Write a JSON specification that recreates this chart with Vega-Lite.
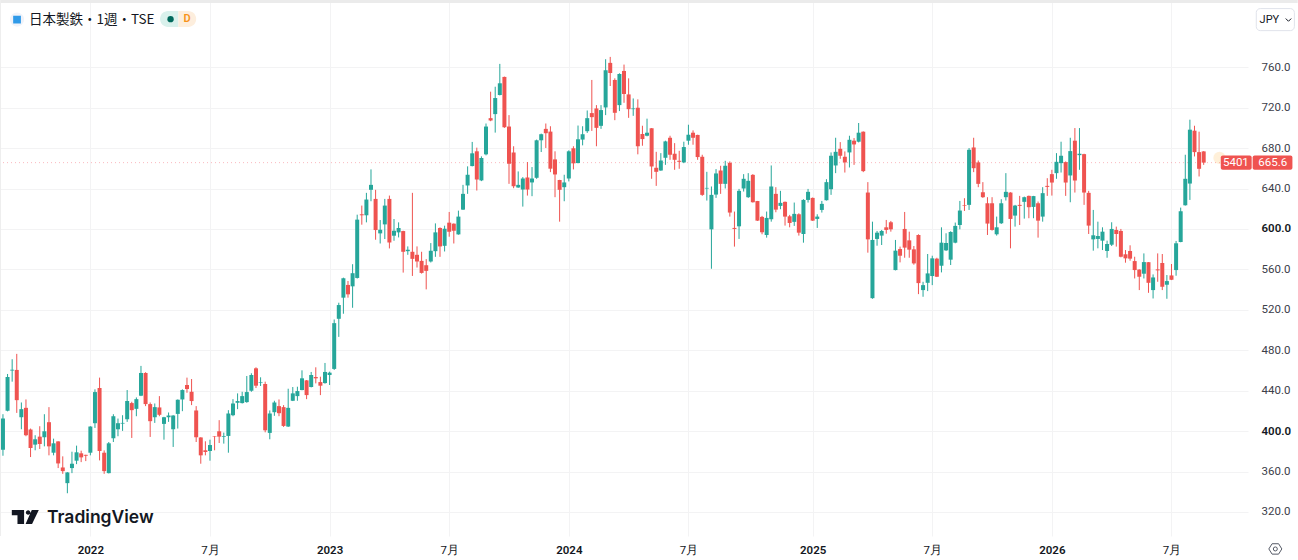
{
"$schema":"https://vega.github.io/schema/vega-lite/v6.json",
"width":1248,"height":536,
"autosize":"none",
"padding":{"left":0,"top":0,"right":50,"bottom":24},
"background":"#ffffff",
"config":{"view":{"stroke":null}},
"title":{"text":"日本製鉄・1週・TSE","anchor":"start","frame":"group","dx":29,"dy":31,"font":"Noto Sans CJK JP","fontSize":13.5,"fontWeight":"normal","color":"#131722"},
"datasets":{"candles":[
{"d":"2021-08-23","o":381.6,"h":416.7,"l":375.6,"c":412.4},
{"d":"2021-08-30","o":420.0,"h":456.5,"l":419.5,"c":453.5},
{"d":"2021-09-06","o":459.9,"h":471.1,"l":448.9,"c":460.7},
{"d":"2021-09-13","o":460.5,"h":476.4,"l":418.0,"c":430.6},
{"d":"2021-09-20","o":413.7,"h":428.3,"l":401.8,"c":421.7},
{"d":"2021-09-27","o":423.0,"h":431.3,"l":394.9,"c":395.9},
{"d":"2021-10-04","o":401.5,"h":402.5,"l":374.3,"c":383.3},
{"d":"2021-10-11","o":386.6,"h":395.9,"l":381.0,"c":391.9},
{"d":"2021-10-18","o":394.5,"h":404.8,"l":382.3,"c":387.2},
{"d":"2021-10-25","o":393.9,"h":416.7,"l":384.9,"c":399.8},
{"d":"2021-11-01","o":408.8,"h":423.7,"l":376.0,"c":384.9},
{"d":"2021-11-08","o":378.6,"h":392.5,"l":376.0,"c":387.9},
{"d":"2021-11-15","o":389.8,"h":389.9,"l":363.4,"c":368.0},
{"d":"2021-11-22","o":364.0,"h":375.0,"l":357.7,"c":360.4},
{"d":"2021-11-29","o":348.5,"h":359.4,"l":338.5,"c":359.1},
{"d":"2021-12-06","o":363.4,"h":379.6,"l":358.4,"c":367.7},
{"d":"2021-12-13","o":370.7,"h":385.6,"l":367.3,"c":379.0},
{"d":"2021-12-20","o":378.0,"h":380.6,"l":369.3,"c":374.0},
{"d":"2021-12-27","o":376.5,"h":376.6,"l":370.3,"c":375.6},
{"d":"2022-01-03","o":378.6,"h":404.8,"l":376.0,"c":404.5},
{"d":"2022-01-10","o":407.8,"h":441.3,"l":403.1,"c":438.6},
{"d":"2022-01-17","o":442.6,"h":452.9,"l":371.0,"c":380.3},
{"d":"2022-01-24","o":378.6,"h":380.9,"l":357.7,"c":360.4},
{"d":"2022-01-31","o":358.4,"h":389.2,"l":358.1,"c":387.9},
{"d":"2022-02-07","o":392.9,"h":416.7,"l":389.2,"c":414.7},
{"d":"2022-02-14","o":401.8,"h":412.4,"l":394.9,"c":407.8},
{"d":"2022-02-21","o":407.4,"h":415.7,"l":400.2,"c":408.1},
{"d":"2022-02-28","o":411.8,"h":440.6,"l":409.1,"c":429.7},
{"d":"2022-03-07","o":427.7,"h":429.0,"l":393.2,"c":420.7},
{"d":"2022-03-14","o":422.0,"h":433.3,"l":414.7,"c":431.6},
{"d":"2022-03-21","o":435.0,"h":464.5,"l":434.6,"c":457.5},
{"d":"2022-03-28","o":457.5,"h":458.2,"l":424.7,"c":426.7},
{"d":"2022-04-04","o":426.7,"h":428.3,"l":394.2,"c":409.8},
{"d":"2022-04-11","o":413.7,"h":427.3,"l":408.1,"c":423.7},
{"d":"2022-04-18","o":423.4,"h":434.6,"l":414.7,"c":416.1},
{"d":"2022-04-25","o":407.1,"h":414.1,"l":391.5,"c":413.7},
{"d":"2022-05-02","o":413.7,"h":418.4,"l":409.1,"c":415.4},
{"d":"2022-05-09","o":401.8,"h":415.7,"l":384.3,"c":415.4},
{"d":"2022-05-16","o":417.0,"h":431.3,"l":402.5,"c":431.0},
{"d":"2022-05-23","o":431.3,"h":441.3,"l":419.7,"c":440.6},
{"d":"2022-05-30","o":445.6,"h":452.9,"l":437.9,"c":441.6},
{"d":"2022-06-06","o":438.9,"h":451.5,"l":425.7,"c":429.7},
{"d":"2022-06-13","o":420.4,"h":424.7,"l":389.2,"c":393.9},
{"d":"2022-06-20","o":393.7,"h":393.9,"l":367.7,"c":376.0},
{"d":"2022-06-27","o":381.0,"h":389.9,"l":376.0,"c":379.3},
{"d":"2022-07-04","o":380.3,"h":391.5,"l":370.7,"c":386.2},
{"d":"2022-07-11","o":394.7,"h":394.9,"l":381.0,"c":394.2},
{"d":"2022-07-18","o":399.8,"h":410.8,"l":388.2,"c":394.5},
{"d":"2022-07-25","o":394.2,"h":398.5,"l":387.6,"c":394.9},
{"d":"2022-08-01","o":395.2,"h":420.7,"l":378.6,"c":417.4},
{"d":"2022-08-08","o":415.7,"h":431.6,"l":414.7,"c":427.3},
{"d":"2022-08-15","o":428.0,"h":437.3,"l":421.7,"c":429.7},
{"d":"2022-08-22","o":427.7,"h":438.9,"l":427.3,"c":434.6},
{"d":"2022-08-29","o":428.7,"h":454.5,"l":428.0,"c":438.6},
{"d":"2022-09-05","o":439.9,"h":457.2,"l":438.9,"c":455.5},
{"d":"2022-09-12","o":462.1,"h":463.1,"l":442.6,"c":444.9},
{"d":"2022-09-19","o":447.9,"h":453.2,"l":444.6,"c":448.5},
{"d":"2022-09-26","o":446.6,"h":448.9,"l":398.8,"c":400.8},
{"d":"2022-10-03","o":398.2,"h":420.4,"l":391.9,"c":417.4},
{"d":"2022-10-10","o":418.7,"h":430.0,"l":415.1,"c":428.3},
{"d":"2022-10-17","o":424.7,"h":431.3,"l":414.7,"c":417.7},
{"d":"2022-10-24","o":423.7,"h":425.7,"l":404.1,"c":405.1},
{"d":"2022-10-31","o":404.5,"h":441.9,"l":404.1,"c":423.0},
{"d":"2022-11-07","o":430.0,"h":443.6,"l":429.7,"c":437.3},
{"d":"2022-11-14","o":434.6,"h":443.9,"l":430.0,"c":439.6},
{"d":"2022-11-21","o":440.6,"h":460.1,"l":440.4,"c":452.2},
{"d":"2022-11-28","o":450.2,"h":450.5,"l":431.6,"c":435.6},
{"d":"2022-12-05","o":443.6,"h":458.5,"l":443.2,"c":455.5},
{"d":"2022-12-12","o":453.5,"h":463.1,"l":447.2,"c":452.2},
{"d":"2022-12-19","o":448.5,"h":453.8,"l":435.6,"c":444.9},
{"d":"2022-12-26","o":447.5,"h":467.4,"l":446.9,"c":458.5},
{"d":"2023-01-02","o":455.5,"h":458.8,"l":445.6,"c":457.8},
{"d":"2023-01-09","o":461.5,"h":510.4,"l":460.5,"c":506.8},
{"d":"2023-01-16","o":511.1,"h":527.0,"l":493.2,"c":524.7},
{"d":"2023-01-23","o":532.0,"h":551.8,"l":516.1,"c":551.2},
{"d":"2023-01-30","o":544.6,"h":548.5,"l":532.0,"c":535.3},
{"d":"2023-02-06","o":543.2,"h":565.1,"l":522.0,"c":556.2},
{"d":"2023-02-13","o":551.5,"h":614.1,"l":550.9,"c":609.2},
{"d":"2023-02-20","o":614.5,"h":623.1,"l":604.2,"c":613.5},
{"d":"2023-02-27","o":613.5,"h":635.7,"l":606.5,"c":629.1},
{"d":"2023-03-06","o":638.7,"h":658.9,"l":627.4,"c":643.6},
{"d":"2023-03-13","o":629.7,"h":638.7,"l":589.3,"c":598.9},
{"d":"2023-03-20","o":595.6,"h":608.8,"l":585.6,"c":599.2},
{"d":"2023-03-27","o":604.5,"h":629.7,"l":590.0,"c":623.1},
{"d":"2023-04-03","o":629.7,"h":633.0,"l":580.7,"c":586.6},
{"d":"2023-04-10","o":593.3,"h":609.8,"l":588.3,"c":598.2},
{"d":"2023-04-17","o":596.6,"h":606.5,"l":591.6,"c":600.9},
{"d":"2023-04-24","o":597.9,"h":598.2,"l":556.8,"c":577.4},
{"d":"2023-05-01","o":578.0,"h":582.7,"l":574.4,"c":579.4},
{"d":"2023-05-08","o":577.4,"h":635.7,"l":553.5,"c":570.4},
{"d":"2023-05-15","o":574.4,"h":582.7,"l":561.8,"c":567.8},
{"d":"2023-05-22","o":568.4,"h":577.4,"l":555.8,"c":556.5},
{"d":"2023-05-29","o":564.1,"h":570.1,"l":540.2,"c":558.5},
{"d":"2023-06-05","o":567.8,"h":586.0,"l":566.8,"c":578.4},
{"d":"2023-06-12","o":578.0,"h":605.5,"l":572.4,"c":596.6},
{"d":"2023-06-19","o":600.9,"h":601.6,"l":572.4,"c":582.7},
{"d":"2023-06-26","o":583.3,"h":603.2,"l":577.7,"c":600.2},
{"d":"2023-07-03","o":606.2,"h":616.8,"l":592.3,"c":597.2},
{"d":"2023-07-10","o":605.2,"h":605.5,"l":585.6,"c":598.2},
{"d":"2023-07-17","o":594.6,"h":618.1,"l":594.3,"c":612.2},
{"d":"2023-07-24","o":619.1,"h":643.6,"l":618.8,"c":634.7},
{"d":"2023-07-31","o":643.0,"h":661.9,"l":634.7,"c":653.6},
{"d":"2023-08-07","o":662.2,"h":686.1,"l":661.9,"c":674.8},
{"d":"2023-08-14","o":676.8,"h":680.4,"l":638.0,"c":648.9},
{"d":"2023-08-21","o":648.0,"h":671.8,"l":647.3,"c":670.2},
{"d":"2023-08-28","o":673.8,"h":704.3,"l":672.8,"c":701.3},
{"d":"2023-09-04","o":709.6,"h":735.8,"l":706.6,"c":707.3},
{"d":"2023-09-11","o":713.6,"h":740.7,"l":695.3,"c":729.5},
{"d":"2023-09-18","o":732.5,"h":763.3,"l":732.1,"c":744.1},
{"d":"2023-09-25","o":750.4,"h":750.7,"l":700.0,"c":700.6},
{"d":"2023-10-02","o":701.3,"h":712.6,"l":644.6,"c":664.5},
{"d":"2023-10-09","o":675.5,"h":681.8,"l":640.3,"c":642.3},
{"d":"2023-10-16","o":641.0,"h":656.9,"l":640.7,"c":643.6},
{"d":"2023-10-23","o":639.0,"h":651.3,"l":622.1,"c":649.9},
{"d":"2023-10-30","o":650.9,"h":666.2,"l":633.0,"c":639.0},
{"d":"2023-11-06","o":646.0,"h":661.2,"l":632.4,"c":649.9},
{"d":"2023-11-13","o":650.6,"h":688.4,"l":649.6,"c":687.7},
{"d":"2023-11-20","o":687.7,"h":694.3,"l":676.1,"c":693.7},
{"d":"2023-11-27","o":699.0,"h":704.3,"l":680.1,"c":694.7},
{"d":"2023-12-04","o":696.3,"h":701.6,"l":656.2,"c":659.6},
{"d":"2023-12-11","o":668.8,"h":676.8,"l":631.4,"c":653.9},
{"d":"2023-12-18","o":648.4,"h":648.6,"l":607.2,"c":638.7},
{"d":"2023-12-25","o":641.3,"h":653.6,"l":627.4,"c":646.0},
{"d":"2024-01-01","o":649.9,"h":677.8,"l":647.0,"c":676.8},
{"d":"2024-01-08","o":679.8,"h":681.8,"l":658.9,"c":664.9},
{"d":"2024-01-15","o":665.2,"h":702.3,"l":664.9,"c":688.7},
{"d":"2024-01-22","o":688.4,"h":701.6,"l":682.7,"c":693.7},
{"d":"2024-01-29","o":696.7,"h":717.2,"l":695.0,"c":709.6},
{"d":"2024-02-05","o":714.6,"h":747.4,"l":697.0,"c":710.6},
{"d":"2024-02-12","o":719.2,"h":722.5,"l":681.8,"c":700.0},
{"d":"2024-02-19","o":702.0,"h":722.5,"l":699.0,"c":717.6},
{"d":"2024-02-26","o":720.2,"h":767.9,"l":712.6,"c":757.0},
{"d":"2024-03-04","o":764.3,"h":770.2,"l":741.4,"c":754.3},
{"d":"2024-03-11","o":747.4,"h":749.0,"l":707.6,"c":714.9},
{"d":"2024-03-18","o":722.5,"h":754.0,"l":716.6,"c":753.3},
{"d":"2024-03-25","o":756.3,"h":762.6,"l":724.8,"c":733.5},
{"d":"2024-04-01","o":733.1,"h":749.0,"l":709.9,"c":718.5},
{"d":"2024-04-08","o":718.5,"h":729.1,"l":711.9,"c":719.2},
{"d":"2024-04-15","o":719.9,"h":728.2,"l":673.8,"c":681.8},
{"d":"2024-04-22","o":693.9,"h":702.1,"l":682.3,"c":688.9},
{"d":"2024-04-29","o":692.2,"h":709.1,"l":691.6,"c":695.2},
{"d":"2024-05-06","o":699.6,"h":699.8,"l":649.6,"c":661.8},
{"d":"2024-05-13","o":660.5,"h":676.3,"l":642.6,"c":656.5},
{"d":"2024-05-20","o":657.8,"h":675.0,"l":657.5,"c":667.7},
{"d":"2024-05-27","o":670.4,"h":687.3,"l":663.4,"c":686.6},
{"d":"2024-06-03","o":690.2,"h":692.2,"l":668.4,"c":673.4},
{"d":"2024-06-10","o":674.4,"h":684.9,"l":658.5,"c":668.4},
{"d":"2024-06-17","o":667.4,"h":677.3,"l":659.5,"c":666.4},
{"d":"2024-06-24","o":665.8,"h":686.3,"l":665.1,"c":681.0},
{"d":"2024-07-01","o":687.3,"h":703.1,"l":683.3,"c":693.2},
{"d":"2024-07-08","o":695.2,"h":697.5,"l":683.3,"c":690.2},
{"d":"2024-07-15","o":693.0,"h":693.2,"l":668.4,"c":671.1},
{"d":"2024-07-22","o":671.4,"h":673.4,"l":632.7,"c":633.7},
{"d":"2024-07-29","o":640.0,"h":656.5,"l":628.1,"c":640.6},
{"d":"2024-08-05","o":599.6,"h":642.0,"l":560.6,"c":633.7},
{"d":"2024-08-12","o":634.0,"h":659.2,"l":630.7,"c":654.9},
{"d":"2024-08-19","o":657.8,"h":662.5,"l":634.7,"c":644.6},
{"d":"2024-08-26","o":644.6,"h":667.4,"l":640.0,"c":662.5},
{"d":"2024-09-02","o":665.4,"h":666.8,"l":612.2,"c":616.2},
{"d":"2024-09-09","o":601.0,"h":617.2,"l":582.5,"c":600.0},
{"d":"2024-09-16","o":602.6,"h":639.6,"l":590.1,"c":637.7},
{"d":"2024-09-23","o":640.0,"h":654.2,"l":637.0,"c":649.6},
{"d":"2024-09-30","o":631.4,"h":655.2,"l":630.7,"c":647.6},
{"d":"2024-10-07","o":653.5,"h":654.2,"l":626.1,"c":626.4},
{"d":"2024-10-14","o":627.6,"h":627.7,"l":607.9,"c":608.2},
{"d":"2024-10-21","o":611.9,"h":612.9,"l":594.7,"c":596.7},
{"d":"2024-10-28","o":594.0,"h":617.2,"l":591.4,"c":610.9},
{"d":"2024-11-04","o":609.6,"h":662.8,"l":607.2,"c":642.0},
{"d":"2024-11-11","o":634.7,"h":641.3,"l":616.5,"c":619.1},
{"d":"2024-11-18","o":622.8,"h":637.7,"l":619.5,"c":625.8},
{"d":"2024-11-25","o":626.8,"h":627.1,"l":603.3,"c":612.2},
{"d":"2024-12-02","o":612.5,"h":613.9,"l":601.6,"c":605.9},
{"d":"2024-12-09","o":607.0,"h":626.1,"l":603.0,"c":614.9},
{"d":"2024-12-16","o":614.5,"h":615.5,"l":593.4,"c":596.3},
{"d":"2024-12-23","o":595.0,"h":629.4,"l":586.4,"c":628.7},
{"d":"2024-12-30","o":628.7,"h":639.6,"l":626.1,"c":636.7},
{"d":"2025-01-06","o":630.7,"h":631.1,"l":607.9,"c":608.2},
{"d":"2025-01-13","o":609.9,"h":614.5,"l":601.0,"c":612.2},
{"d":"2025-01-20","o":618.8,"h":627.7,"l":616.2,"c":624.8},
{"d":"2025-01-27","o":628.4,"h":649.2,"l":628.1,"c":646.3},
{"d":"2025-02-03","o":639.3,"h":675.7,"l":633.7,"c":672.4},
{"d":"2025-02-10","o":662.8,"h":690.2,"l":655.2,"c":676.3},
{"d":"2025-02-17","o":679.3,"h":685.9,"l":669.4,"c":672.4},
{"d":"2025-02-24","o":671.4,"h":676.7,"l":655.8,"c":665.8},
{"d":"2025-03-03","o":675.7,"h":692.2,"l":660.8,"c":688.2},
{"d":"2025-03-10","o":687.3,"h":689.9,"l":663.4,"c":683.6},
{"d":"2025-03-17","o":686.3,"h":704.8,"l":685.6,"c":695.2},
{"d":"2025-03-24","o":696.2,"h":696.5,"l":656.2,"c":657.2},
{"d":"2025-03-31","o":636.0,"h":646.3,"l":576.5,"c":589.7},
{"d":"2025-04-07","o":531.5,"h":607.2,"l":530.9,"c":589.1},
{"d":"2025-04-14","o":590.1,"h":598.0,"l":583.4,"c":596.3},
{"d":"2025-04-21","o":593.4,"h":599.0,"l":584.1,"c":598.0},
{"d":"2025-04-28","o":601.6,"h":608.9,"l":595.3,"c":599.0},
{"d":"2025-05-05","o":606.6,"h":607.9,"l":597.3,"c":599.6},
{"d":"2025-05-12","o":559.3,"h":589.1,"l":559.0,"c":578.5},
{"d":"2025-05-19","o":580.1,"h":582.5,"l":566.9,"c":573.5},
{"d":"2025-05-26","o":600.0,"h":616.8,"l":571.5,"c":581.5},
{"d":"2025-06-02","o":588.7,"h":597.3,"l":571.5,"c":579.5},
{"d":"2025-06-09","o":579.8,"h":583.1,"l":564.6,"c":565.9},
{"d":"2025-06-16","o":594.0,"h":594.7,"l":535.5,"c":546.4},
{"d":"2025-06-23","o":539.5,"h":547.7,"l":532.9,"c":544.4},
{"d":"2025-06-30","o":546.7,"h":575.2,"l":538.5,"c":556.0},
{"d":"2025-07-07","o":553.4,"h":573.5,"l":544.4,"c":570.9},
{"d":"2025-07-14","o":570.6,"h":571.5,"l":552.4,"c":552.7},
{"d":"2025-07-21","o":563.6,"h":601.6,"l":557.0,"c":586.4},
{"d":"2025-07-28","o":578.8,"h":595.7,"l":578.2,"c":586.1},
{"d":"2025-08-04","o":569.6,"h":597.7,"l":564.3,"c":597.0},
{"d":"2025-08-11","o":586.4,"h":606.3,"l":585.8,"c":603.0},
{"d":"2025-08-18","o":603.9,"h":627.7,"l":599.6,"c":618.2},
{"d":"2025-08-25","o":623.4,"h":630.4,"l":617.8,"c":622.8},
{"d":"2025-09-01","o":623.8,"h":680.0,"l":618.8,"c":678.3},
{"d":"2025-09-08","o":680.6,"h":690.2,"l":656.2,"c":660.1},
{"d":"2025-09-15","o":665.8,"h":667.7,"l":641.3,"c":644.6},
{"d":"2025-09-22","o":636.3,"h":646.3,"l":630.7,"c":631.4},
{"d":"2025-09-29","o":625.4,"h":631.4,"l":594.0,"c":605.3},
{"d":"2025-10-06","o":625.4,"h":631.4,"l":598.3,"c":599.0},
{"d":"2025-10-13","o":594.7,"h":612.2,"l":593.4,"c":601.6},
{"d":"2025-10-20","o":605.6,"h":629.4,"l":604.9,"c":625.4},
{"d":"2025-10-27","o":631.4,"h":655.2,"l":628.1,"c":636.7},
{"d":"2025-11-03","o":636.0,"h":636.3,"l":580.8,"c":609.9},
{"d":"2025-11-10","o":613.2,"h":623.8,"l":602.3,"c":623.1},
{"d":"2025-11-17","o":623.8,"h":632.7,"l":603.9,"c":622.8},
{"d":"2025-11-24","o":626.8,"h":632.0,"l":610.2,"c":631.4},
{"d":"2025-12-01","o":632.7,"h":633.0,"l":610.6,"c":621.5},
{"d":"2025-12-08","o":621.8,"h":632.7,"l":610.6,"c":632.5},
{"d":"2025-12-15","o":625.4,"h":627.1,"l":591.4,"c":608.2},
{"d":"2025-12-22","o":612.2,"h":641.3,"l":607.2,"c":635.4},
{"d":"2025-12-29","o":642.6,"h":650.2,"l":632.7,"c":641.6},
{"d":"2026-01-05","o":654.2,"h":658.5,"l":633.0,"c":645.9},
{"d":"2026-01-12","o":655.2,"h":675.0,"l":649.6,"c":666.4},
{"d":"2026-01-19","o":665.1,"h":686.3,"l":655.8,"c":672.4},
{"d":"2026-01-26","o":666.1,"h":666.8,"l":632.7,"c":645.9},
{"d":"2026-02-02","o":652.9,"h":690.2,"l":626.4,"c":677.0},
{"d":"2026-02-09","o":687.3,"h":699.8,"l":636.0,"c":647.9},
{"d":"2026-02-16","o":673.0,"h":699.8,"l":658.5,"c":674.4},
{"d":"2026-02-23","o":674.0,"h":674.4,"l":623.8,"c":636.0},
{"d":"2026-03-02","o":635.7,"h":637.7,"l":595.0,"c":603.3},
{"d":"2026-03-09","o":589.7,"h":618.8,"l":578.5,"c":593.7},
{"d":"2026-03-16","o":590.1,"h":607.2,"l":580.8,"c":593.0},
{"d":"2026-03-23","o":588.4,"h":601.6,"l":579.1,"c":597.3},
{"d":"2026-03-30","o":578.2,"h":588.4,"l":571.5,"c":585.1},
{"d":"2026-04-06","o":584.4,"h":606.6,"l":583.1,"c":600.0},
{"d":"2026-04-13","o":599.0,"h":602.3,"l":582.5,"c":595.0},
{"d":"2026-04-20","o":598.0,"h":600.0,"l":571.9,"c":572.5},
{"d":"2026-04-27","o":574.9,"h":579.1,"l":566.6,"c":570.9},
{"d":"2026-05-04","o":578.2,"h":583.8,"l":568.6,"c":570.6},
{"d":"2026-05-11","o":568.2,"h":572.5,"l":551.0,"c":559.3},
{"d":"2026-05-18","o":559.8,"h":560.0,"l":539.5,"c":552.7},
{"d":"2026-05-25","o":555.7,"h":575.8,"l":551.0,"c":567.2},
{"d":"2026-06-01","o":567.1,"h":567.2,"l":536.8,"c":546.7},
{"d":"2026-06-08","o":539.5,"h":555.0,"l":531.2,"c":552.0},
{"d":"2026-06-15","o":560.0,"h":575.8,"l":547.7,"c":559.0},
{"d":"2026-06-22","o":566.3,"h":575.2,"l":539.5,"c":542.8},
{"d":"2026-06-29","o":544.8,"h":554.4,"l":530.9,"c":548.4},
{"d":"2026-07-06","o":554.0,"h":565.3,"l":549.4,"c":549.7},
{"d":"2026-07-13","o":559.3,"h":588.1,"l":553.7,"c":585.8},
{"d":"2026-07-20","o":587.1,"h":621.1,"l":586.8,"c":617.5},
{"d":"2026-07-27","o":623.4,"h":673.4,"l":623.1,"c":649.6},
{"d":"2026-08-03","o":644.9,"h":708.1,"l":628.7,"c":698.2},
{"d":"2026-08-10","o":697.2,"h":702.1,"l":671.7,"c":676.0},
{"d":"2026-08-17","o":676.0,"h":696.2,"l":651.9,"c":659.5},
{"d":"2026-08-24","o":676.7,"h":677.0,"l":663.4,"c":665.6}
]},
"data":{"name":"candles"},
"layer":[
{"data":{"values":[{"n":1}]},"mark":{"type":"rule","color":"#f23645","strokeDash":[1,3],"strokeWidth":1,"opacity":0.35},
 "encoding":{"y":{"datum":665.6,"type":"quantitative","title":null,"scale":{"domain":[296.2,826.5],"nice":false,"zero":false},
  "axis":{"orient":"right","values":[320,360,400,440,480,520,560,600,640,680,720,760],"format":".1f","title":null,"domain":false,"ticks":false,"grid":true,"gridColor":"#f3f3f4","gridWidth":1,"labelPadding":13,"labelFont":"Roboto","labelFontSize":11.5,"labelColor":{"condition":{"test":"datum.value==400||datum.value==600","value":"#131722"},"value":"#3c404a"},"labelFontWeight":{"condition":{"test":"datum.value==400||datum.value==600","value":600},"value":400}}}}},
{"mark":{"type":"rule","strokeWidth":1},
 "encoding":{"x":{"field":"d","type":"temporal","title":null,
   "scale":{"type":"utc","padding":0,"domain":[{"year":2021,"month":8,"date":18,"hours":12,"utc":true},{"year":2026,"month":10,"date":30,"hours":10,"utc":true}],"nice":false},
   "axis":{"values":[{"year":2022,"month":1,"date":3,"utc":true},{"year":2022,"month":7,"date":4,"utc":true},{"year":2023,"month":1,"date":2,"utc":true},{"year":2023,"month":7,"date":3,"utc":true},{"year":2024,"month":1,"date":1,"utc":true},{"year":2024,"month":7,"date":1,"utc":true},{"year":2025,"month":1,"date":6,"utc":true},{"year":2025,"month":7,"date":7,"utc":true},{"year":2026,"month":1,"date":5,"utc":true},{"year":2026,"month":7,"date":6,"utc":true}],
    "labelExpr":"utcmonth(datum.value)==0 ? ''+utcyear(datum.value) : '7月'","labelOverlap":false,"labelFlush":false,"title":null,"domain":false,"ticks":false,"grid":true,"gridColor":"#f3f3f4","gridWidth":1,"labelPadding":8,"labelFont":"Roboto","labelFontSize":11.5,"labelColor":"#131722","labelFontWeight":{"condition":{"test":"utcmonth(datum.value)==0","value":600},"value":400}}},
  "y":{"field":"l","type":"quantitative"},"y2":{"field":"h"},
  "color":{"condition":{"test":"datum.c<datum.o","value":"#ef5350"},"value":"#26a69a"}}},
{"mark":{"type":"bar","size":4,"orient":"vertical"},
 "encoding":{"x":{"field":"d","type":"temporal"},"y":{"field":"o","type":"quantitative"},"y2":{"field":"c"},
  "color":{"condition":{"test":"datum.c<datum.o","value":"#ef5350"},"value":"#26a69a"}}},
{"data":{"values":[{"n":1}]},"mark":{"type":"rect","color":"#ebebeb"},
 "encoding":{"x":{"datum":{"year":2021,"month":8,"date":18,"hours":12,"utc":true},"type":"temporal"},"x2":{"datum":{"year":2027,"month":1,"date":14,"utc":true}},"y":{"datum":826.5,"type":"quantitative"},"y2":{"datum":823.5}}},
{"data":{"values":[{"n":1}]},"mark":{"type":"rule","color":"#eeeeee","strokeWidth":2},
 "encoding":{"x":{"datum":{"year":2021,"month":8,"date":18,"hours":12,"utc":true},"type":"temporal"}}},
{"data":{"values":[{"n":1}]},"mark":{"type":"point","shape":"circle","filled":true,"color":"#f0f3fa","opacity":1,"size":200},
 "encoding":{"x":{"datum":{"year":2021,"month":9,"date":13,"hours":10,"utc":true},"type":"temporal"},"y":{"datum":807.1,"type":"quantitative"}}},
{"data":{"values":[{"n":1}]},"mark":{"type":"point","shape":"square","filled":true,"color":"#2f9ae8","opacity":1,"size":60},
 "encoding":{"x":{"datum":{"year":2021,"month":9,"date":13,"hours":10,"utc":true},"type":"temporal"},"y":{"datum":807.1,"type":"quantitative"}}},
{"data":{"values":[{"n":1}]},"mark":{"type":"rect","color":"#d9f1ec","cornerRadiusTopLeft":8,"cornerRadiusBottomLeft":8},
 "encoding":{"x":{"datum":{"year":2022,"month":4,"date":19,"utc":true},"type":"temporal"},"x2":{"datum":{"year":2022,"month":5,"date":17,"utc":true}},"y":{"datum":815.7,"type":"quantitative"},"y2":{"datum":799.9}}},
{"data":{"values":[{"n":1}]},"mark":{"type":"rect","color":"#fdeedd","cornerRadiusTopRight":8,"cornerRadiusBottomRight":8},
 "encoding":{"x":{"datum":{"year":2022,"month":5,"date":17,"utc":true},"type":"temporal"},"x2":{"datum":{"year":2022,"month":6,"date":13,"utc":true}},"y":{"datum":815.7,"type":"quantitative"},"y2":{"datum":799.9}}},
{"data":{"values":[{"n":1}]},"mark":{"type":"point","shape":"circle","filled":true,"color":"#00695c","opacity":1,"size":40},
 "encoding":{"x":{"datum":{"year":2022,"month":5,"date":5,"utc":true},"type":"temporal"},"y":{"datum":807.5,"type":"quantitative"}}},
{"data":{"values":[{"t":"D"}]},"mark":{"type":"text","color":"#f7931a","font":"Roboto","fontSize":11,"fontWeight":600},
 "encoding":{"text":{"field":"t"},"x":{"datum":{"year":2022,"month":5,"date":30,"utc":true},"type":"temporal"},"y":{"datum":807.5,"type":"quantitative"}}},
{"data":{"values":[{"n":1}]},"mark":{"type":"point","shape":"M-1 -0.52L-0.09 -0.52L-0.09 0.52L-0.58 0.52L-0.58 -0.12L-1 -0.12ZM0.04 -0.32A0.17 0.17 0 1 0 0.38 -0.32A0.17 0.17 0 1 0 0.04 -0.32ZM0.48 -0.52L1 -0.52L0.5 0.52L0.02 0.52Z","filled":true,"color":"#131722","opacity":1,"size":729},
 "encoding":{"x":{"datum":{"year":2021,"month":9,"date":26,"utc":true},"type":"temporal"},"y":{"datum":315.1,"type":"quantitative"}}},
{"data":{"values":[{"t":"TradingView"}]},"mark":{"type":"text","align":"left","baseline":"middle","color":"#131722","font":"Inter","fontSize":17.5,"fontWeight":600},
 "encoding":{"text":{"field":"t"},"x":{"datum":{"year":2021,"month":10,"date":29,"utc":true},"type":"temporal"},"y":{"datum":314,"type":"quantitative"}}},
{"data":{"values":[{"n":1}]},"mark":{"type":"point","shape":"circle","filled":true,"color":"#ff9800","opacity":0.15,"size":150},
 "encoding":{"x":{"datum":{"year":2026,"month":9,"date":17,"utc":true},"type":"temporal"},"y":{"datum":670.3,"type":"quantitative"}}},
{"data":{"values":[{"n":1}]},"mark":{"type":"rect","color":"#ef5350","cornerRadius":2},
 "encoding":{"x":{"datum":{"year":2026,"month":9,"date":19,"utc":true},"type":"temporal"},"x2":{"datum":{"year":2026,"month":11,"date":5,"utc":true}},"y":{"datum":672.7,"type":"quantitative"},"y2":{"datum":658.6}}},
{"data":{"values":[{"n":1}]},"mark":{"type":"rect","color":"#ef5350","cornerRadius":2},
 "encoding":{"x":{"datum":{"year":2026,"month":11,"date":6,"hours":12,"utc":true},"type":"temporal"},"x2":{"datum":{"year":2027,"month":1,"date":6,"utc":true}},"y":{"datum":672.7,"type":"quantitative"},"y2":{"datum":658.6}}},
{"data":{"values":[{"t":"5401"}]},"mark":{"type":"text","color":"#ffffff","font":"Roboto","fontSize":11.5},
 "encoding":{"text":{"field":"t"},"x":{"datum":{"year":2026,"month":10,"date":12,"utc":true},"type":"temporal"},"y":{"datum":665.4,"type":"quantitative"}}},
{"data":{"values":[{"t":"665.6"}]},"mark":{"type":"text","color":"#ffffff","font":"Roboto","fontSize":11.5},
 "encoding":{"text":{"field":"t"},"x":{"datum":{"year":2026,"month":12,"date":7,"utc":true},"type":"temporal"},"y":{"datum":665.4,"type":"quantitative"}}},
{"data":{"values":[{"n":1}]},"mark":{"type":"rect","fill":"#ffffff","stroke":"#e0e3eb","strokeWidth":1,"cornerRadius":4},
 "encoding":{"x":{"datum":{"year":2026,"month":11,"date":12,"utc":true},"type":"temporal"},"x2":{"datum":{"year":2027,"month":1,"date":9,"utc":true}},"y":{"datum":818,"type":"quantitative"},"y2":{"datum":796.2}}},
{"data":{"values":[{"t":"JPY"}]},"mark":{"type":"text","align":"left","color":"#131722","font":"Roboto","fontSize":11},
 "encoding":{"text":{"field":"t"},"x":{"datum":{"year":2026,"month":11,"date":17,"utc":true},"type":"temporal"},"y":{"datum":806.8,"type":"quantitative"}}},
{"data":{"values":[{"n":1}]},"mark":{"type":"point","shape":"M-1 -0.5L0 0.5L1 -0.5","color":"#131722","opacity":1,"strokeWidth":1,"size":30},
 "encoding":{"x":{"datum":{"year":2026,"month":12,"date":31,"utc":true},"type":"temporal"},"y":{"datum":806.8,"type":"quantitative"}}},
{"data":{"values":[{"n":1}]},"mark":{"type":"point","shape":"M-1 0L-0.5 -0.8L0.5 -0.8L1 0L0.5 0.8L-0.5 0.8Z","color":"#555a66","opacity":1,"strokeWidth":1,"size":169},
 "encoding":{"x":{"datum":{"year":2026,"month":12,"date":11,"utc":true},"type":"temporal"},"y":{"datum":283.4,"type":"quantitative"}}},
{"data":{"values":[{"n":1}]},"mark":{"type":"point","shape":"circle","color":"#555a66","opacity":1,"strokeWidth":1,"size":16},
 "encoding":{"x":{"datum":{"year":2026,"month":12,"date":11,"utc":true},"type":"temporal"},"y":{"datum":283.4,"type":"quantitative"}}}
]
}
